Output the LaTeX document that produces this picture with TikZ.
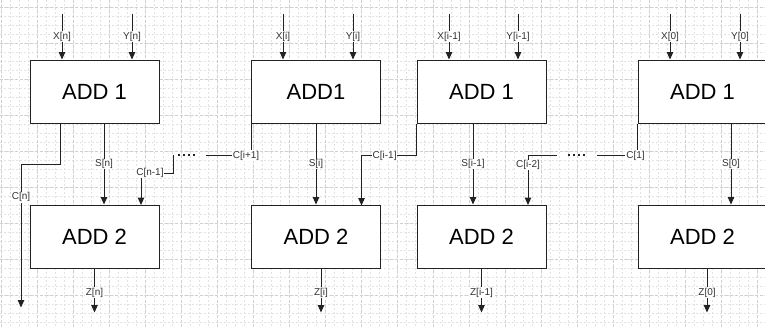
\documentclass[tikz,border=0pt]{standalone}
\usepackage{fontspec}
\setmainfont{Liberation Sans}
\usetikzlibrary{arrows.meta,calc}
\definecolor{ln}{HTML}{222222}
\definecolor{tx}{HTML}{333333}
\definecolor{gminor}{HTML}{E2E2E2}
\definecolor{gmajor}{HTML}{D0D0D0}
\tikzset{
 box/.style={draw=ln, line width=1pt, fill=white, minimum width=129pt, minimum height=63pt, inner sep=0pt, font=\fontsize{22}{26}\selectfont},
 wire/.style={draw=ln, line width=1pt},
 arr/.style={wire, -{Triangle[width=6.5pt,length=7.5pt]}},
 lbl/.style={fill=white, inner sep=0.8pt, text=tx, font=\fontsize{10}{12}\selectfont},
 dotline/.style={draw=ln, line width=1.5pt, dash pattern=on 1.5pt off 3.5pt},
 gridminor/.style={draw=gminor, line width=0.6pt, dash pattern=on 2pt off 2pt},
 gridmajor/.style={draw=gmajor, line width=0.7pt, dash pattern=on 3pt off 2pt},
}
\begin{document}
\begin{tikzpicture}[x=1pt,y=-1pt]
\clip (0,0) rectangle (765,327);
\fill[white] (0,0) rectangle (765,327);
% background grid
\foreach \g in {0,...,86} {\draw[gridminor] (\g*9+1,0) -- (\g*9+1,327);}
\foreach \g in {0,...,37} {\draw[gridminor] (0,\g*9+7) -- (765,\g*9+7);}
\foreach \g in {0,...,21} {\draw[gridmajor] (\g*36+1,0) -- (\g*36+1,327);}
\foreach \g in {0,...,9} {\draw[gridmajor] (0,\g*36+7) -- (765,\g*36+7);}

% boxes
\node[box] (a1n)  at (94.5,91.5)  {ADD 1};
\node[box] (a2n)  at (94.5,236.5) {ADD 2};
\node[box] (a1i)  at (316,91.5)   {ADD1};
\node[box] (a2i)  at (316,236.5)  {ADD 2};
\node[box] (a1im) at (481.5,91.5) {ADD 1};
\node[box] (a2im) at (481.5,236.5){ADD 2};
\node[box] (a10)  at (702.5,91.5) {ADD 1};
\node[box] (a20)  at (702.5,236.5){ADD 2};

% inputs X, Y
\draw[arr] ([xshift=-32.5pt,yshift=46pt]a1n.north) -- node[lbl]{X[n]} ([xshift=-32.5pt]a1n.north);
\draw[arr] ([xshift=37.5pt,yshift=46pt]a1n.north) -- node[lbl]{Y[n]} ([xshift=37.5pt]a1n.north);
\draw[arr] ([xshift=-33pt,yshift=46pt]a1i.north) -- node[lbl]{X[i]} ([xshift=-33pt]a1i.north);
\draw[arr] ([xshift=37pt,yshift=46pt]a1i.north) -- node[lbl]{Y[i]} ([xshift=37pt]a1i.north);
\draw[arr] ([xshift=-32.5pt,yshift=46pt]a1im.north) -- node[lbl]{X[i-1]} ([xshift=-32.5pt]a1im.north);
\draw[arr] ([xshift=36.5pt,yshift=46pt]a1im.north) -- node[lbl]{Y[i-1]} ([xshift=36.5pt]a1im.north);
\draw[arr] ([xshift=-32.5pt,yshift=46pt]a10.north) -- node[lbl]{X[0]} ([xshift=-32.5pt]a10.north);
\draw[arr] ([xshift=37.5pt,yshift=46pt]a10.north) -- node[lbl]{Y[0]} ([xshift=37.5pt]a10.north);

% sums
\draw[arr] ([xshift=9.5pt]a1n.south) -- node[lbl]{S[n]} ([xshift=9.5pt]a2n.north);
\draw[arr] (a1i.south) -- node[lbl]{S[i]} (a2i.north);
\draw[arr] ([xshift=-8.5pt]a1im.south) -- node[lbl]{S[i-1]} ([xshift=-8.5pt]a2im.north);
\draw[arr] ([xshift=28.5pt]a10.south) -- node[lbl]{S[0]} ([xshift=28.5pt]a20.north);

% outputs Z
\draw[arr] (a2n.south) -- node[lbl,pos=0.55]{Z[n]} ([yshift=-44pt]a2n.south);
\draw[arr] ([xshift=5pt]a2i.south) -- node[lbl,pos=0.55]{Z[i]} ([xshift=5pt,yshift=-44pt]a2i.south);
\draw[arr] (a2im.south) -- node[lbl,pos=0.55]{Z[i-1]} ([yshift=-44pt]a2im.south);
\draw[arr] ([xshift=4.5pt]a20.south) -- node[lbl,pos=0.55]{Z[0]} ([xshift=4.5pt,yshift=-44pt]a20.south);

% carries
\draw[arr] ([xshift=-34.5pt]a1n.south) -- ++(0,41) -- ++(-39,0) -- node[lbl,pos=0.23]{C[n]} ++(0,143);

\coordinate (dn) at (173,155);
\draw[arr] (dn) -- ++(0,18) -- node[lbl,pos=0.72]{C[n-1]} ++(-32,0) -- ++(0,32);
\draw[dotline] (178,155) -- (198,155);

\draw[wire] (a1i.south west) -- ++(0,32) -- node[lbl,pos=0.11]{C[i+1]} ++(-45,0);

\draw[arr] (a1im.south west) -- ++(0,32) -- node[lbl,pos=0.58]{C[i-1]} ++(-55,0) -- ++(0,50);

\coordinate (dim) at (557,155);
\draw[arr] (dim) -- ++(-29,0) -- node[lbl,pos=0.2]{C[i-2]} ++(0,50);
\draw[dotline] (568,155) -- (588,155);

\draw[wire] (a10.south west) -- ++(0,32) -- node[lbl,pos=0.05]{C[1]} ++(-41,0);
\end{tikzpicture}
\end{document}
